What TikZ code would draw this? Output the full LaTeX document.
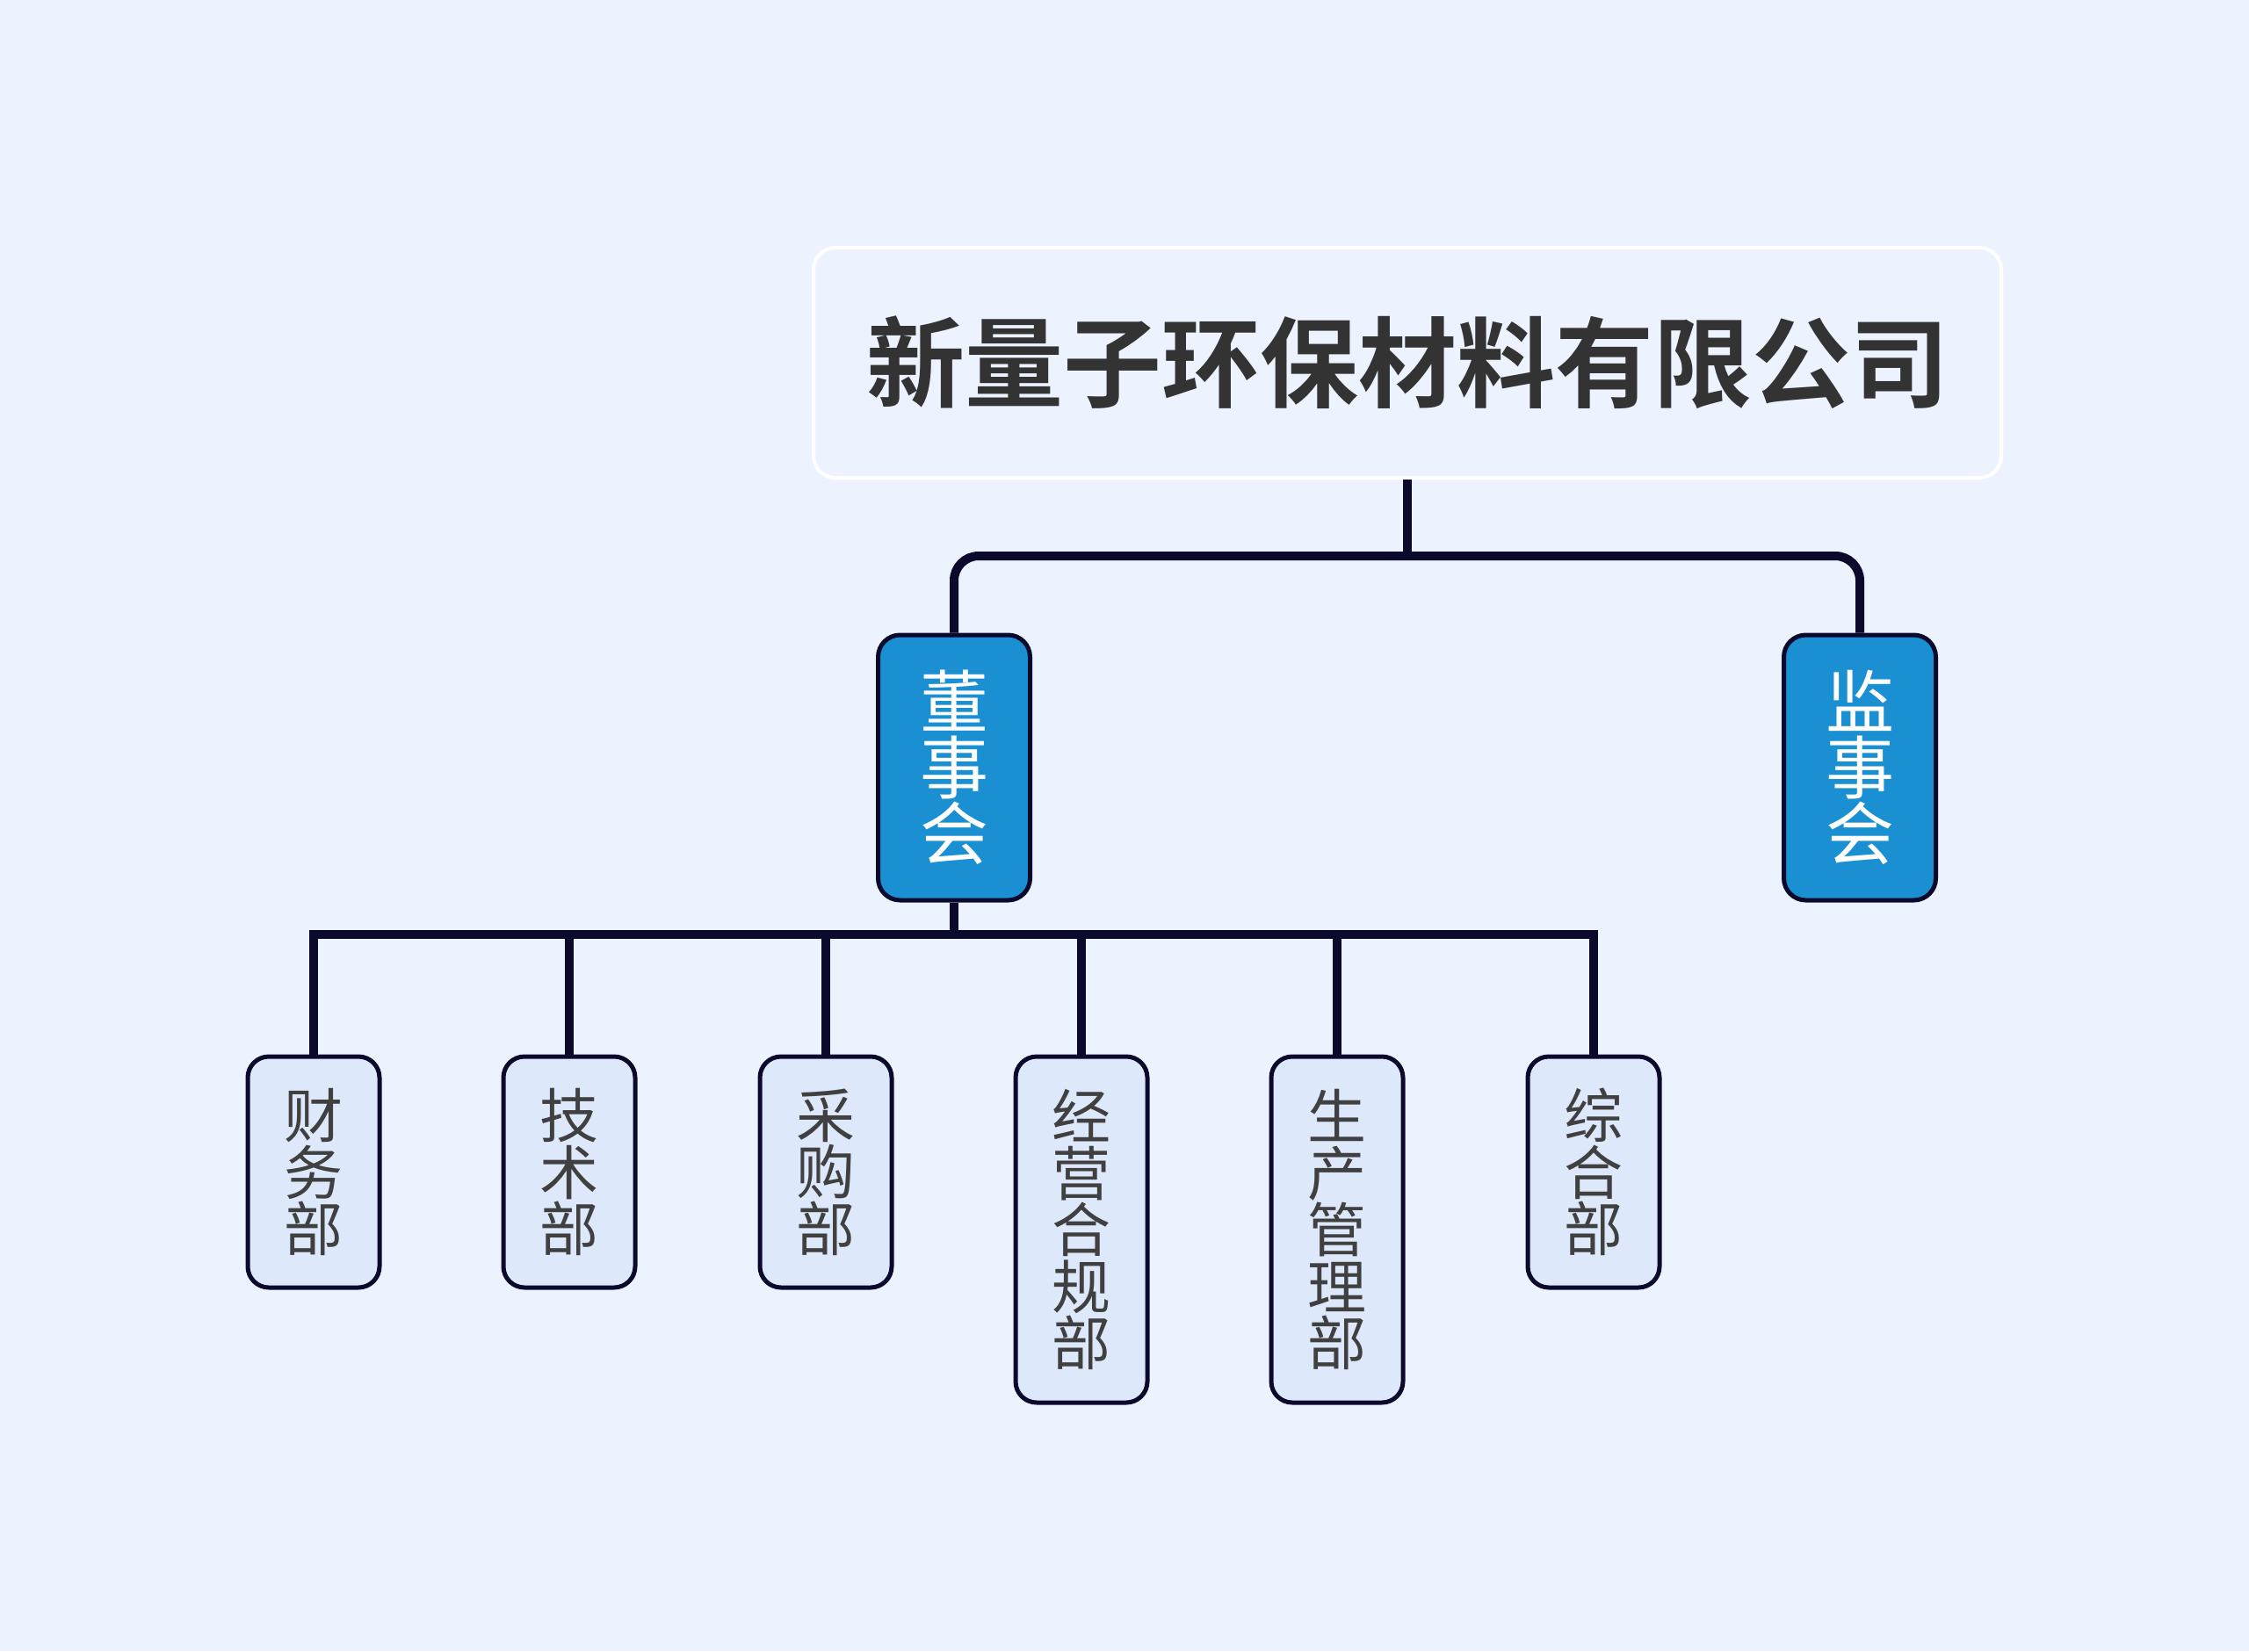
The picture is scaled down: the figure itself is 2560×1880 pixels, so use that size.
\documentclass[tikz,border=0pt]{standalone}
\usepackage{fontspec}
\setmainfont{Noto Sans CJK SC}
\newfontfamily\cjkbold{Noto Sans CJK SC Bold}
\definecolor{bgc}{HTML}{EDF3FE}
\definecolor{navy}{HTML}{0C0A2C}
\definecolor{blueb}{HTML}{1A90D3}
\definecolor{childf}{HTML}{DEE8FB}
\definecolor{txtg}{HTML}{404040}
\definecolor{titleg}{HTML}{333333}
\tikzset{
  rootbox/.style={draw=white, line width=4pt, fill=bgc, rounded corners=25pt,
    minimum width=1352pt, minimum height=262pt, inner sep=0pt,
    font=\cjkbold\fontsize{112}{120}\selectfont, text=titleg},
  midbox/.style={draw=navy, line width=5pt, fill=blueb, rounded corners=25pt,
    minimum width=173pt, minimum height=302pt, inner sep=0pt, align=center,
    font=\fontsize{78}{75}\selectfont, text=white},
  childbox/.style={draw=navy, line width=5pt, fill=childf, rounded corners=24pt,
    minimum width=150pt, inner sep=0pt, align=center,
    font=\fontsize{67}{64.5}\selectfont, text=txtg},
  conn/.style={draw=navy, line width=10pt}
}
\begin{document}
\begin{tikzpicture}[x=1pt,y=1pt]
\useasboundingbox (0,0) rectangle (2560,-1880);
\fill[bgc] (0,0) rectangle (2560,-1880);

\node[rootbox] (root) at (1602,-413) {新量子环保材料有限公司};

\node[midbox] (dsh) at (1086,-874) {董\\事\\会};
\node[midbox] (jsh) at (2117,-874) {监\\事\\会};

\node[childbox, minimum height=263pt] (c1) at (357,-1334.5) {财\\务\\部};
\node[childbox, minimum height=263pt] (c2) at (648,-1334.5) {技\\术\\部};
\node[childbox, minimum height=263pt] (c3) at (940,-1334.5) {采\\购\\部};
\node[childbox, minimum height=394pt] (c4) at (1231,-1400) {经\\营\\合\\规\\部};
\node[childbox, minimum height=394pt] (c5) at (1522,-1400) {生\\产\\管\\理\\部};
\node[childbox, minimum height=263pt] (c6) at (1814,-1334.5) {综\\合\\部};

\coordinate (bus1) at (1602,-633);
\coordinate (bus2) at (1086,-1064);

\draw[conn] (root.south) -- (bus1);
\draw[conn, rounded corners=28pt] (dsh.north) |- (bus1) -| (jsh.north);

\draw[conn] (dsh.south) -- (bus2);
\draw[conn] (c1.north) |- (c6.north |- bus2) -- (c6.north);
\draw[conn] (c2.north) -- (c2.north |- bus2);
\draw[conn] (c3.north) -- (c3.north |- bus2);
\draw[conn] (c4.north) -- (c4.north |- bus2);
\draw[conn] (c5.north) -- (c5.north |- bus2);
\end{tikzpicture}
\end{document}
